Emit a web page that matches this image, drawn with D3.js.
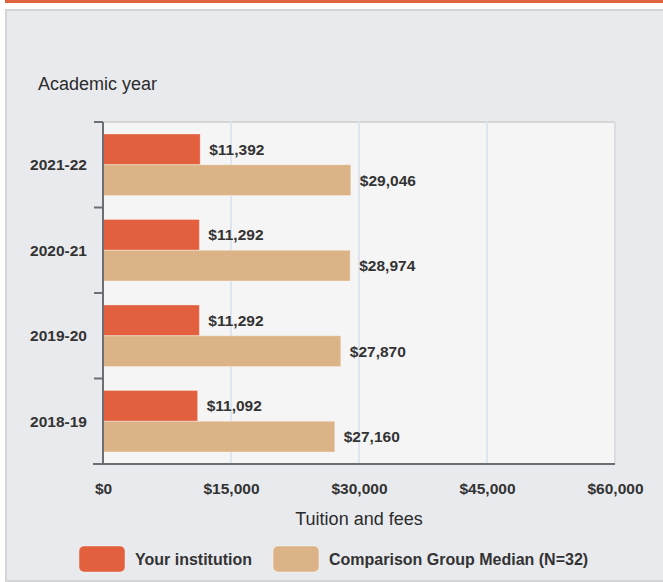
<!DOCTYPE html>
<html>
<head>
<meta charset="utf-8">
<script src="https://cdn.jsdelivr.net/npm/d3@7"></script>
<style>
  body { margin: 0; background: #fff; font-family: "Liberation Sans", Arial, sans-serif; }
  .tick text { font-size: 15.5px; font-weight: bold; fill: #333; font-family: "Liberation Sans", Arial, sans-serif; }
  .val { font-size: 15.5px; font-weight: bold; fill: #333; }
  .title { font-size: 18px; fill: #2b2b2b; }
</style>
</head>
<body>
<svg id="chart"></svg>
<script>
var years = ["2021-22", "2020-21", "2019-20", "2018-19"];
var yourInstitution = [11392, 11292, 11292, 11092];
var groupMedian = [29046, 28974, 27870, 27160];
var xTicks = [0, 15000, 30000, 45000, 60000];
var seriesNames = ["Your institution", "Comparison Group Median (N=32)"];
var colors = ["#e2603d", "#dcb386"];

var W = 663, H = 582;
var margin = {top: 122, right: 48, bottom: 118, left: 103},
	width = W - margin.left - margin.right,
	height = H - margin.top - margin.bottom;

var svg = d3.select("#chart").attr("width", W).attr("height", H);

// page frame
svg.append("rect").attr("x", 5).attr("y", 0).attr("width", W - 5).attr("height", 3).attr("fill", "#e0633f");
svg.append("rect").attr("x", 6).attr("y", 10).attr("width", W).attr("height", H - 11)
	.attr("fill", "#e9eaee").attr("stroke", "#d3d4d6").attr("stroke-width", 2);

var g = svg.append("g").attr("transform", "translate(" + margin.left + "," + margin.top + ")");

var x = d3.scaleLinear().domain([0, 60000]).range([0, width]);
var y = d3.scaleBand().domain(years).range([0, height]).paddingInner(0.28).paddingOuter(0.14);
var y1 = d3.scaleBand().domain([0, 1]).range([0, y.bandwidth()]);

g.append("rect").attr("width", width).attr("height", height).attr("fill", "#f5f5f5");
g.append("line").attr("x1", 0).attr("x2", width).attr("y1", 0).attr("y2", 0)
	.attr("stroke", "#d6d6d8").attr("stroke-width", 2);

// grid
g.selectAll(".grid").data(xTicks.slice(1)).enter().append("line")
	.attr("x1", function (d) { return x(d); }).attr("x2", function (d) { return x(d); })
	.attr("y1", 0).attr("y2", height)
	.attr("stroke", function (d, i) { return i == xTicks.length - 2 ? "#dcdde0" : "#dfe5ee"; })
	.attr("stroke-width", 2);

var series = [yourInstitution, groupMedian];
series.forEach(function (vals, s) {
	g.selectAll(".bar" + s).data(vals).enter().append("rect")
		.attr("x", 0)
		.attr("y", function (d, i) { return y(years[i]) + y1(s); })
		.attr("width", function (d) { return x(d); })
		.attr("height", y1.bandwidth())
		.attr("fill", colors[s])
		.attr("stroke", "rgba(255,255,255,0.35)").attr("stroke-width", 1);
	g.selectAll(".val" + s).data(vals).enter().append("text")
		.attr("class", "val")
		.attr("x", function (d) { return x(d) + 9; })
		.attr("y", function (d, i) { return y(years[i]) + y1(s) + y1.bandwidth() / 2; })
		.attr("dy", "0.35em")
		.text(function (d) { return d3.format("$,")(d); });
});

// y axis with ticks at band boundaries
var yAxis = g.append("g");
yAxis.append("line").attr("x1", 0).attr("x2", 0).attr("y1", 0).attr("y2", height)
	.attr("stroke", "#6b6e73").attr("stroke-width", 2);
var bounds = d3.range(years.length).map(function (i) { return i * y.step(); });
yAxis.selectAll(".ytick").data(bounds).enter().append("line")
	.attr("x1", -9).attr("x2", 0)
	.attr("y1", function (d) { return d; }).attr("y2", function (d) { return d; })
	.attr("stroke", "#6b6e73").attr("stroke-width", 2);
yAxis.selectAll(".ylab").data(years).enter().append("text")
	.attr("class", "val")
	.attr("x", -16)
	.attr("y", function (d) { return y(d) + y.bandwidth() / 2; })
	.attr("dy", "0.35em")
	.attr("text-anchor", "end")
	.text(function (d) { return d; });

// x axis
var xAxis = g.append("g").attr("transform", "translate(0," + height + ")")
	.call(d3.axisBottom(x).tickValues(xTicks).tickSize(0).tickPadding(19).tickFormat(d3.format("$,")));
xAxis.select(".domain").attr("stroke", "#6b6e73").attr("stroke-width", 2).attr("d", "M-10,0H" + width);

svg.append("text").attr("class", "title").attr("x", 38).attr("y", 90)
	.text("Academic year");
svg.append("text").attr("class", "title").attr("x", margin.left + width / 2).attr("y", 525)
	.attr("text-anchor", "middle")
	.text("Tuition and fees");

// legend
var legendX = [79, 273];
var legend = svg.selectAll(".legend").data(seriesNames).enter().append("g")
	.attr("transform", function (d, i) { return "translate(" + legendX[i] + ",546)"; });
legend.append("rect").attr("width", 46).attr("height", 26).attr("rx", 5)
	.attr("fill", function (d, i) { return colors[i]; })
	.attr("stroke", "rgba(255,255,255,0.4)");
legend.append("text").attr("x", 56).attr("y", 13).attr("dy", "0.35em")
	.style("font-size", "16px").style("font-weight", "bold").style("fill", "#333")
	.text(function (d) { return d; });
</script>
</body>
</html>
